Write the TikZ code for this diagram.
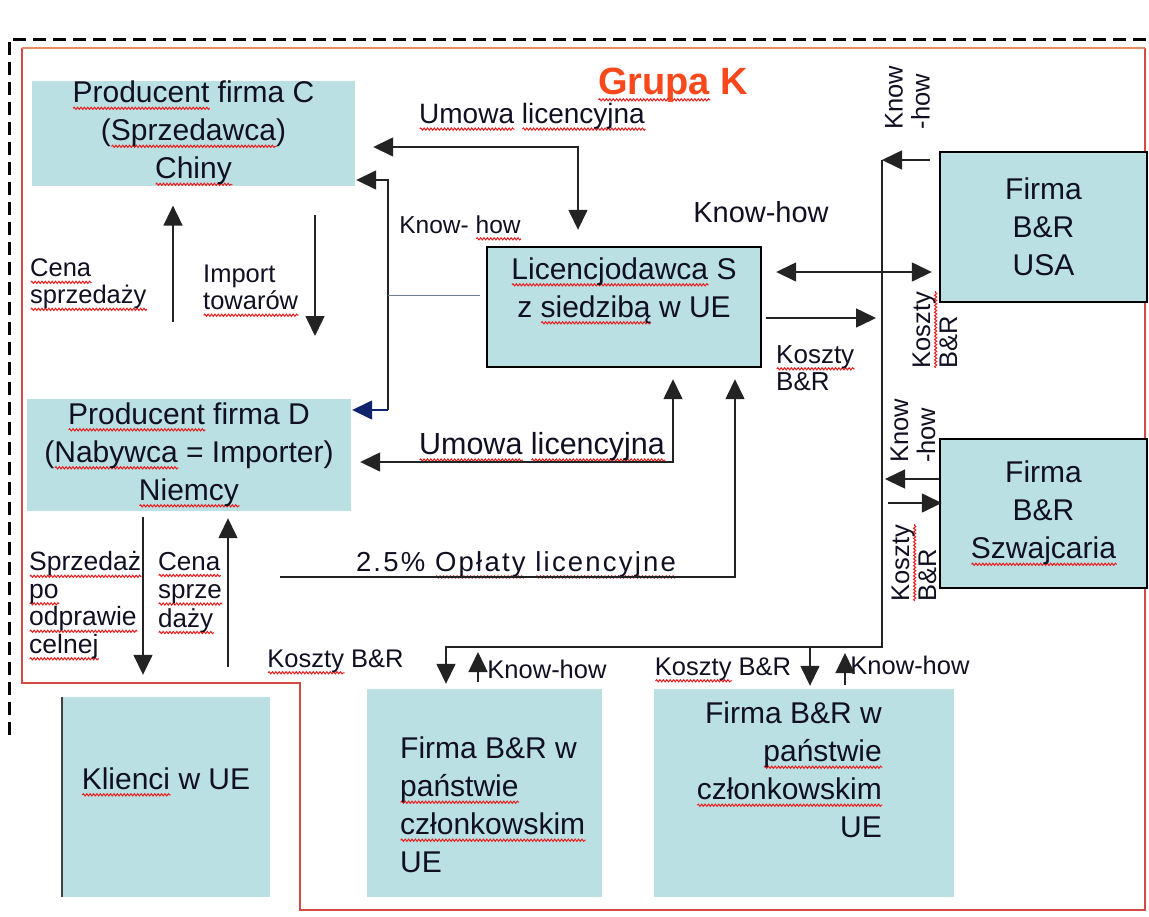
\documentclass[tikz,border=0pt]{standalone}
\usepackage{fontspec}
\setmainfont{Liberation Sans}
\usetikzlibrary{arrows.meta,decorations.pathmorphing}

\definecolor{boxfill}{RGB}{187,224,227}
\definecolor{ink}{RGB}{16,16,34}
\definecolor{lineink}{RGB}{35,35,35}
\definecolor{grpred}{RGB}{214,72,66}
\definecolor{grporange}{RGB}{232,138,100}
\definecolor{titlered}{RGB}{248,72,28}
\definecolor{navyarrow}{RGB}{16,36,110}
\definecolor{linkgray}{RGB}{110,125,150}
\definecolor{spellred}{RGB}{236,28,28}

% red wavy underline under a word
\newsavebox\wavebox
\newlength\wavewd
\newcommand\wavy[1]{%
  \sbox\wavebox{#1}\setlength\wavewd{\wd\wavebox}%
  \leavevmode\rlap{\tikz[reset cm,baseline=0pt]\draw[spellred,line width=1pt,
    decorate,decoration={snake,amplitude=1.1pt,segment length=3.4pt}]
    (0pt,-5.5pt) -- (\wavewd,-5.5pt);}%
  \usebox\wavebox}

\tikzset{
  box/.style={fill=boxfill,draw=none,inner sep=0pt},
  framedbox/.style={box,draw=black,line width=2.4pt},
  big/.style={font=\fontsize{30}{38}\selectfont,text=ink,align=center,inner sep=0pt},
  lbl/.style={font=\fontsize{25.5}{27}\selectfont,text=ink,inner sep=0pt},
  conn/.style={draw=lineink,line width=1.5pt},
}

\begin{document}
\begin{tikzpicture}[x=1pt,y=-1pt,>={Triangle[length=20pt,width=19pt]}]
\useasboundingbox[fill=white] (0,0) rectangle (1149,916);

% outer dashed frame and group outline
\draw[black,line width=3pt,dash pattern=on 13pt off 7pt] (9,735) -- (9,39) -- (1149,39);
\draw[grpred,line width=1.6pt] (22,48) -- (22,683) -- (300,683) -- (300,910) -- (1145,910) -- (1145,48);
\draw[grporange,line width=1.6pt] (22,48) -- (1145,48);

\node[font=\fontsize{38}{40}\selectfont\bfseries,text=titlered,inner sep=0pt] (title) at (673,85) {\wavy{Grupa} K};

% companies
\node[box,big,minimum width=323pt,minimum height=104pt] (C) at (193.5,133.5)
  {\wavy{Producent} firma C\\(\wavy{Sprzedawca})\\\wavy{Chiny}};
\node[box,big,minimum width=324pt,minimum height=112pt] (D) at (189,455)
  {\wavy{Producent} firma D\\(\wavy{Nabywca} = Importer)\\\wavy{Niemcy}};
\node[framedbox,minimum width=274pt,minimum height=120pt] (S) at (624,307) {};
\node[big] (Stxt) at (624,291) {\wavy{Licencjodawca} S\\z \wavy{siedzibą} w UE};
\node[framedbox,big,minimum width=207pt,minimum height=150pt] (USA) at (1043.5,227) {Firma\\B\&R\\USA};
\node[framedbox,big,minimum width=207pt,minimum height=149pt] (Szw) at (1043.5,513.5) {Firma\\B\&R\\\wavy{Szwajcaria}};
\node[box,minimum width=208pt,minimum height=200pt] (K) at (166,797) {};
\draw[line width=2.2pt,draw=black!75] (K.north west) -- (K.south west);
\node[big] (Ktxt) at (166,782) {\wavy{Klienci} w UE};
\node[box,minimum width=235pt,minimum height=208pt] (EU1) at (484.5,793) {};
\node[big,align=left,anchor=west] (EU1txt) at (400,805) {Firma B\&R w\\\wavy{państwie}\\\wavy{członkowskim}\\UE};
\node[box,minimum width=300pt,minimum height=208pt] (EU2) at (804,793) {};
\node[big,align=right,anchor=east] (EU2txt) at (882,770) {Firma B\&R w\\\wavy{państwie}\\\wavy{członkowskim}\\UE};

% flow labels
\node[lbl,font=\fontsize{28}{30}\selectfont] (um1) at (532,117) {\wavy{Umowa} \wavy{licencyjna}};
\node[lbl,font=\fontsize{24.5}{27}\selectfont] (kh1) at (460,228) {Know- \wavy{how}};
\node[lbl,font=\fontsize{29}{30}\selectfont] (kh2) at (761,212) {Know-how};
\node[lbl,align=left,anchor=west] (cena1) at (30,285) {\wavy{Cena}\\\wavy{sprzedaży}};
\node[lbl,align=left,anchor=west] (imp) at (203,291) {Import\\\wavy{towarów}};
\node[lbl,font=\fontsize{26}{27}\selectfont,align=left,anchor=west] (kb1) at (776,368) {\wavy{Koszty}\\B\&R};
\node[lbl,font=\fontsize{30.5}{32}\selectfont] (um2) at (542,447) {\wavy{Umowa} \wavy{licencyjna}};
\node[lbl,font=\fontsize{27.5}{29}\selectfont\addfontfeature{LetterSpace=8}] (fee) at (516,565) {2.5\% \wavy{Opłaty} \wavy{licencyjne}};
\node[lbl,font=\fontsize{26.5}{27.5}\selectfont,align=left,anchor=west] (spr) at (29,606) {\wavy{Sprzedaż}\\\wavy{po}\\\wavy{odprawie}\\\wavy{celnej}};
\node[lbl,font=\fontsize{26}{28.5}\selectfont,align=left,anchor=west] (cena2) at (158,593) {\wavy{Cena}\\\wavy{sprze}\\\wavy{daży}};
\node[lbl] (kb2) at (335.5,662) {\wavy{Koszty} B\&R};
\node[lbl] (kh3) at (547,669) {Know-how};
\node[lbl] (kb3) at (723,670) {\wavy{Koszty} B\&R};
\node[lbl] (kh4) at (910,665) {Know-how};
\node[lbl,rotate=90,align=left] (kh5) at (907.5,97.5) {Know\\-how};
\node[lbl,rotate=90,align=left] (kb4) at (935,330) {\wavy{Koszty}\\B\&R};
\node[lbl,rotate=90,align=left] (kh6) at (913,431) {Know\\-how};
\node[lbl,rotate=90,align=left] (kb5) at (914,563) {\wavy{Koszty}\\B\&R};

% Chiny <-> Niemcy
\coordinate (cenaFrom) at (173,322);
\draw[conn,->,shorten >=19.5pt] (cenaFrom) -- (cenaFrom |- C.south);
\coordinate (impFrom) at (315,215);
\coordinate (impTo) at (315,336);
\draw[conn,->] (impFrom) -- (impTo);

% licence contract with the seller
\coordinate (ulCorner) at (578,147);
\draw[conn,<->,shorten <=18pt,shorten >=16pt] (ulCorner -| C.east) -- (ulCorner) -- (ulCorner |- S.north);

% know-how to both producers
\coordinate (khTop) at (388,180);
\coordinate (khBot) at (388,410);
\coordinate (khMid) at (388,295);
\draw[conn,->,shorten >=1pt] (khBot) -- (khTop) -- (khTop -| C.east);
\draw[conn,draw=navyarrow,->,shorten >=1pt] (khBot) -- (khBot -| D.east);
\draw[draw=linkgray,line width=1pt,shorten >=6pt] (khMid) -- (khMid -| S.west);

% licensor <-> USA, costs out
\coordinate (su) at (0,272);
\coordinate (sc) at (0,318);
\coordinate (busX) at (882,0);
\draw[conn,<->,shorten <=14pt,shorten >=7pt] (S.east |- su) -- (USA.west |- su);
\draw[conn,->,shorten <=4pt,shorten >=6pt] (S.east |- sc) -- (busX |- sc);

% R&D bus
\coordinate (busTop) at (882,160);
\coordinate (busBot) at (882,647);
\coordinate (eu1Drop) at (446,647);
\draw[conn,->,shorten <=9pt] (USA.west |- busTop) -- (busTop);
\draw[conn,->,shorten >=5pt] (busTop) -- (busBot) -- (eu1Drop) -- (eu1Drop |- EU1.north);
\coordinate (eu1Up) at (478,652);
\draw[conn,->,shorten <=7pt] (eu1Up |- EU1.north) -- (eu1Up);
\coordinate (eu2Drop) at (810,647);
\draw[conn,->,shorten >=3pt] (eu2Drop) -- (eu2Drop |- EU2.north);
\coordinate (eu2Up) at (845,653);
\draw[conn,->,shorten <=4pt] (eu2Up |- EU2.north) -- (eu2Up);

% Switzerland
\coordinate (swA) at (0,479);
\coordinate (swB) at (0,503);
\draw[conn,->,shorten >=3pt] (Szw.west |- swA) -- (busX |- swA);
\draw[conn,->,shorten <=6pt,shorten >=-3pt] (busX |- swB) -- (Szw.west |- swB);

% Niemcy <-> Klienci
\coordinate (salesX) at (143,0);
\coordinate (priceX) at (228,0);
\draw[conn,->,shorten <=6pt,shorten >=22pt] (salesX |- D.south) -- (salesX |- K.north);
\draw[conn,->,shorten <=30pt,shorten >=7pt] (priceX |- K.north) -- (priceX |- D.south);

% licence fee and lower contract
\coordinate (feeStart) at (280,577);
\coordinate (feeCorner) at (735,577);
\draw[conn,->,shorten >=11pt] (feeStart) -- (feeCorner) -- (feeCorner |- S.south);
\coordinate (ul2Corner) at (673,462);
\draw[conn,<->,shorten <=9pt,shorten >=11pt] (ul2Corner -| D.east) -- (ul2Corner) -- (ul2Corner |- S.south);
\end{tikzpicture}
\end{document}
